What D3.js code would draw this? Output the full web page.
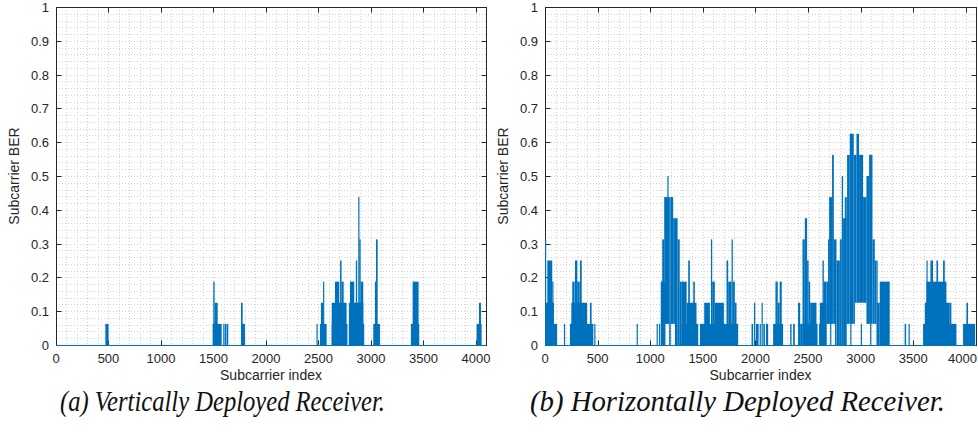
<!DOCTYPE html>
<html><head><meta charset="utf-8">
<script src="https://cdn.jsdelivr.net/npm/d3@7"></script>
<style>body{margin:0;background:#fff}svg{display:block}</style>
</head><body>
<svg id="c" width="978" height="432"></svg>
<script>
// ---- data ----
const xTicks = [0, 500, 1000, 1500, 2000, 2500, 3000, 3500, 4000];
const yTicks = [0, 0.1, 0.2, 0.3, 0.4, 0.5, 0.6, 0.7, 0.8, 0.9, 1];
const yTickLabels = ["0", "0.1", "0.2", "0.3", "0.4", "0.5", "0.6", "0.7", "0.8", "0.9", "1"];
const xLabel = "Subcarrier index";
const yLabel = "Subcarrier BER";
const captions = ["(a) Vertically Deployed Receiver.", "(b) Horizontally Deployed Receiver."];

// Panel (a): runs of subcarriers [start, end] with min / max BER of the trace
const aStart = [470,1492,1498,1511,1593,1609,1628,1762,1762,2481,2514,2524,2544,2626,2626,2657,2706,2720,2790,2790,2800,2856,2879,2889,2902,3022,3038,3048,3381,3397,4006,4029];
const aEnd   = [501,1578,1511,1540,1605,1624,1641,1800,1778,2485,2578,2546,2552,2776,2768,2698,2720,2740,2936,2927,2841,2869,2889,2902,2927,3086,3048,3064,3460,3454,4054,4048];
const aLow   = [0,0,0,0,0,0,0,0,0,0,0,0,0,0,0,0,0,0,0,0,0,0,0,0,0,0,0,0,0,0,0,0];
const aHigh  = [.0625,.0625,.1875,.125,.0625,.0625,.0625,.0625,.125,.0625,.0625,.125,.1875,.0625,.125,.1875,.25,.1875,.0625,.125,.1875,.25,.4375,.3125,.1875,.0625,.1875,.3125,.0625,.1875,.0625,.125];

// Panel (b)
const bStart = [0,0,22,69,85,180,237,250,259,285,307,332,427,468,871,1061,1083,
  1100,1114,1133,1140,1163,1180,1195,1218,1235,1260,1280,1300,1300,1346,1361,1409,
  1472,1513,1577,1589,1614,1725,1741,1773,1785,1804,
  1963,1986,2005,2040,2058,2075,2100,2168,2190,2212,2230,2330,2358,2405,2425,
  2445,2447,2469,2491,2505,2520,
  2605,2612,2637,2650,2675,2690,2700,2728,2745,2770,2802,2820,2833,2849,2865,2871,2896,2934,2944,2960,2985,3023,3055,3080,3112,3134,3150,3156,3181,
  2710,2756,2901,3001,3090,
  3418,3455,3593,3610,3625,3625,3663,3720,3783,3846,3973,4005];
const bEnd = [8,85,69,80,115,184,459,400,282,307,330,349,443,472,875,1065,1087,
  1140,1133,1140,1180,1170,1195,1218,1235,1260,1280,1300,1456,1346,1440,1377,1424,
  1836,1567,1589,1614,1700,1741,1773,1785,1804,1820,
  1978,1998,2030,2050,2067,2090,2121,2263,2212,2230,2250,2343,2374,2425,2445,
  2590,2469,2491,2505,2520,2580,
  2612,2675,2650,2675,2700,2700,2728,2745,2770,2802,2820,2833,2865,2865,2871,2896,2934,2944,2960,2985,3023,3055,3080,3112,3134,3150,3156,3181,3276,
  2713,2759,2904,3004,3093,
  3432,3465,3910,3846,3815,3634,3688,3735,3799,3862,4088,4020];
const bLow = [0,0,0,0,0,0,0,0,0,0,0,0,0,0,0,0,0,
  0,0,0,.0625,.0625,0,.0625,.0625,0,0,0,0,0,0,0,0,
  0,0,0,0,0,0,0,0,0,0,
  0,0,0,0,0,0,0,0,0,0,0,0,0,0,0,
  0,0,0,0,0,0,
  0,0,0,0,.0625,.0625,.0625,.0625,.0625,0,0,0,0,0,.0625,.0625,.0625,.0625,.125,.125,.125,.125,.0625,.0625,.0625,.0625,0,0,0,
  0,0,0,0,0,
  0,0,0,0,0,0,0,0,0,0,0,0];
const bHigh = [.3125,.125,.25,.1875,.0625,.0625,.0625,.125,.1875,.25,.1875,.25,.125,.0625,.0625,.0625,.0625,
  .1875,.3125,.4375,.4375,.5,.4375,.4375,.375,.375,.3125,.1875,.0625,.1875,.125,.25,.1875,
  .0625,.125,.3125,.1875,.125,.25,.1875,.3125,.1875,.125,
  .0625,.125,.0625,.0625,.125,.0625,.0625,.0625,.1875,.125,.1875,.0625,.0625,.125,.0625,
  .0625,.3125,.375,.25,.1875,.125,
  .0625,.125,.25,.1875,.1875,.3125,.4375,.5625,.3125,.25,.3125,.5,.375,.4375,.4375,.5625,.625,.5625,.5625,.625,.5625,.4375,.5,.5625,.3125,.25,.25,.125,.1875,
  .0625,.0625,.0625,.0625,.0625,
  .0625,.0625,.0625,.125,.1875,.25,.25,.25,.25,.125,.0625,.125];

// ---- drawing ----
const svg = d3.select("#c");
const blue = "#0072BD", axisCol = "#262626";
const sans = "'Liberation Sans', Arial, Helvetica, sans-serif";
const serif = "'Liberation Serif', 'Times New Roman', Times, serif";
const yTop = 7, yBot = 345;
const panels = [
  {x0: 56, x1: 486, start: aStart, end: aEnd, low: aLow, high: aHigh, cap: captions[0], capX: 60, capW: 325, ylabX: 19},
  {x0: 545, x1: 976, start: bStart, end: bEnd, low: bLow, high: bHigh, cap: captions[1], capX: 530, capW: 415, ylabX: 508}
];

panels.forEach((p, pi) => {
  const x = d3.scaleLinear().domain([0, 4096]).range([p.x0, p.x1]);
  const y = d3.scaleLinear().domain([0, 1]).range([yBot, yTop]);
  const g = svg.append("g");

  // grid (major + minor, dotted)
  const minorX = d3.range(0, 4096, 100);
  const minorY = d3.range(0, 1.0001, 0.02);
  g.append("g").selectAll("line").data(minorX).join("line")
    .attr("x1", d => Math.round(x(d)) + 0.5).attr("x2", d => Math.round(x(d)) + 0.5)
    .attr("y1", yTop).attr("y2", yBot)
    .attr("stroke", "#d2d2d2").attr("stroke-width", 1).attr("stroke-dasharray", "1,2");
  g.append("g").selectAll("line").data(minorY).join("line")
    .attr("y1", d => Math.round(y(d)) + 0.5).attr("y2", d => Math.round(y(d)) + 0.5)
    .attr("x1", p.x0).attr("x2", p.x1)
    .attr("stroke", "#d2d2d2").attr("stroke-width", 1).attr("stroke-dasharray", "1,2");

  // clip
  const cid = "clip" + pi;
  svg.append("clipPath").attr("id", cid).append("rect")
    .attr("x", p.x0).attr("y", yTop).attr("width", p.x1 - p.x0).attr("height", yBot - yTop + 1);

  // box
  g.append("rect").attr("x", p.x0 + 0.5).attr("y", yTop + 0.5)
    .attr("width", p.x1 - p.x0).attr("height", yBot - yTop)
    .attr("fill", "none").attr("stroke", axisCol).attr("stroke-width", 1);

  // ticks (inside, all four sides)
  const tl = 5;
  xTicks.forEach((t, i) => {
    const xx = Math.round(x(t)) + 0.5;
    g.append("line").attr("x1", xx).attr("x2", xx).attr("y1", yBot + 0.5).attr("y2", yBot + 0.5 - tl).attr("stroke", axisCol);
    g.append("line").attr("x1", xx).attr("x2", xx).attr("y1", yTop + 0.5).attr("y2", yTop + 0.5 + tl).attr("stroke", axisCol);
    const last = (pi === 1 && i === xTicks.length - 1);
    g.append("text").attr("x", last ? 977 : x(t)).attr("y", yBot + 18)
      .attr("text-anchor", last ? "end" : "middle")
      .attr("font-family", sans).attr("font-size", 13).attr("fill", axisCol).text(t);
  });
  yTicks.forEach((t, i) => {
    const yy = Math.round(y(t)) + 0.5;
    g.append("line").attr("x1", p.x0 + 0.5).attr("x2", p.x0 + 0.5 + tl).attr("y1", yy).attr("y2", yy).attr("stroke", axisCol);
    g.append("line").attr("x1", p.x1 + 0.5).attr("x2", p.x1 + 0.5 - tl).attr("y1", yy).attr("y2", yy).attr("stroke", axisCol);
    g.append("text").attr("x", p.x0 - 7).attr("y", y(t) + 5).attr("text-anchor", "end")
      .attr("font-family", sans).attr("font-size", 13).attr("fill", axisCol).text(yTickLabels[i]);
  });

  // data
  const dg = svg.append("g").attr("clip-path", `url(#${cid})`);
  dg.append("line").attr("x1", p.x0).attr("x2", p.x1).attr("y1", yBot + 0.5).attr("y2", yBot + 0.5)
    .attr("stroke", blue).attr("stroke-width", 1.2);
  const runs = p.start.map((s, i) => ({s, e: p.end[i], lo: p.low[i], hi: p.high[i]}));
  dg.selectAll("rect.r").data(runs).join("rect").attr("class", "r")
    .attr("x", d => x(d.s))
    .attr("width", d => Math.max(x(d.e) - x(d.s), 1.2))
    .attr("y", d => y(d.hi))
    .attr("height", d => Math.max(y(d.lo) - y(d.hi), 1) + (d.lo === 0 ? 0.5 : 0))
    .attr("fill", blue);

  // axis labels
  svg.append("text").attr("x", (p.x0 + p.x1) / 2).attr("y", yBot + 35).attr("text-anchor", "middle")
    .attr("font-family", sans).attr("font-size", 14).attr("fill", axisCol).text(xLabel);
  svg.append("text").attr("transform", `translate(${p.ylabX},${(yTop + yBot) / 2}) rotate(-90)`)
    .attr("text-anchor", "middle")
    .attr("font-family", sans).attr("font-size", 14).attr("fill", axisCol).text(yLabel);

  // caption
  svg.append("text").attr("x", p.capX).attr("y", 411).attr("text-anchor", "start")
    .attr("font-family", serif).attr("font-style", "italic")
    .attr("font-size", 30).attr("textLength", p.capW).attr("lengthAdjust", "spacingAndGlyphs")
    .attr("fill", "#111").text(p.cap);
});
</script>
</body></html>
